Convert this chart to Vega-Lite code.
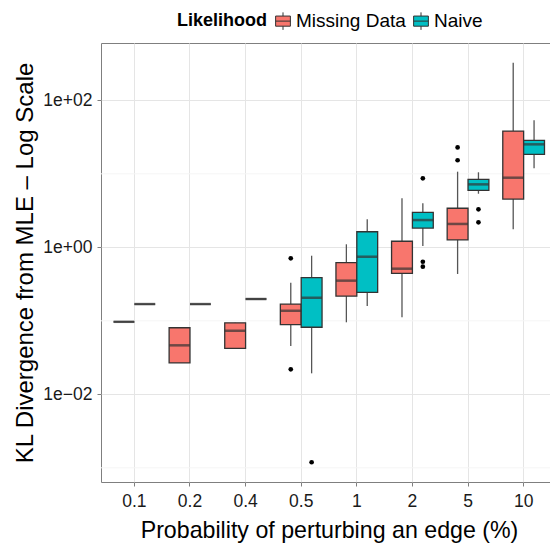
{
  "$schema": "https://vega.github.io/schema/vega-lite/v6.json",
  "width": 449,
  "height": 439,
  "autosize": {"type": "none"},
  "padding": {"left": 101, "top": 43, "right": 0, "bottom": 66},
  "background": "white",
  "config": {
    "font": "Liberation Sans",
    "view": {"stroke": "#7F7F7F", "strokeWidth": 1},
    "axis": {
      "domain": false,
      "tickColor": "#7F7F7F",
      "tickSize": 4,
      "labelFontSize": 17.5,
      "labelColor": "#1A1A1A",
      "titleFontWeight": "normal",
      "titleColor": "#000000",
      "gridColor": "#E5E5E5",
      "gridWidth": 1
    }
  },
  "datasets": {
    "minor": [{"v": 0.001}, {"v": 0.1}, {"v": 10}],
    "boxes": [
      {"cat": "0.1", "group": "Missing Data", "lo": 0.097, "q1": 0.097, "med": 0.097, "q3": 0.097, "hi": 0.097},
      {"cat": "0.1", "group": "Naive", "lo": 0.169, "q1": 0.169, "med": 0.169, "q3": 0.169, "hi": 0.169},
      {"cat": "0.2", "group": "Missing Data", "lo": 0.0267, "q1": 0.0267, "med": 0.0464, "q3": 0.0805, "hi": 0.0805},
      {"cat": "0.2", "group": "Naive", "lo": 0.169, "q1": 0.169, "med": 0.169, "q3": 0.169, "hi": 0.169},
      {"cat": "0.4", "group": "Missing Data", "lo": 0.0423, "q1": 0.0423, "med": 0.0733, "q3": 0.094, "hi": 0.094},
      {"cat": "0.4", "group": "Naive", "lo": 0.198, "q1": 0.198, "med": 0.198, "q3": 0.198, "hi": 0.198},
      {"cat": "0.5", "group": "Missing Data", "lo": 0.0454, "q1": 0.0885, "med": 0.137, "q3": 0.169, "hi": 0.33},
      {"cat": "0.5", "group": "Naive", "lo": 0.0193, "q1": 0.0817, "med": 0.206, "q3": 0.386, "hi": 0.769},
      {"cat": "1", "group": "Missing Data", "lo": 0.0955, "q1": 0.217, "med": 0.352, "q3": 0.618, "hi": 1.10},
      {"cat": "1", "group": "Naive", "lo": 0.159, "q1": 0.244, "med": 0.745, "q3": 1.63, "hi": 2.41},
      {"cat": "2", "group": "Missing Data", "lo": 0.112, "q1": 0.443, "med": 0.512, "q3": 1.21, "hi": 4.64},
      {"cat": "2", "group": "Naive", "lo": 1.04, "q1": 1.83, "med": 2.35, "q3": 2.99, "hi": 3.97},
      {"cat": "5", "group": "Missing Data", "lo": 0.434, "q1": 1.26, "med": 2.08, "q3": 3.40, "hi": 10.7},
      {"cat": "5", "group": "Naive", "lo": 5.36, "q1": 5.96, "med": 7.19, "q3": 8.41, "hi": 10.5},
      {"cat": "10", "group": "Missing Data", "lo": 1.76, "q1": 4.54, "med": 8.86, "q3": 38.2, "hi": 325},
      {"cat": "10", "group": "Naive", "lo": 11.9, "q1": 18.4, "med": 25.2, "q3": 28.6, "hi": 53.4}
    ],
    "outliers": [
      {"cat": "0.5", "group": "Missing Data", "v": 0.708},
      {"cat": "0.5", "group": "Missing Data", "v": 0.0219},
      {"cat": "0.5", "group": "Naive", "v": 0.00119},
      {"cat": "2", "group": "Naive", "v": 8.69},
      {"cat": "2", "group": "Naive", "v": 0.637},
      {"cat": "2", "group": "Naive", "v": 0.545},
      {"cat": "5", "group": "Missing Data", "v": 22.9},
      {"cat": "5", "group": "Missing Data", "v": 15.3},
      {"cat": "5", "group": "Naive", "v": 3.29},
      {"cat": "5", "group": "Naive", "v": 2.19}
    ]
  },
  "layer": [
    {
      "data": {"name": "minor"},
      "mark": {"type": "rule", "color": "#F5F5F5", "strokeWidth": 1},
      "encoding": {
        "y": {
          "field": "v", "type": "quantitative",
          "scale": {"type": "log", "domain": [0.000641, 603], "nice": false},
          "axis": {"title": "KL Divergence from MLE – Log Scale", "values": [0.01, 1, 100], "labelExpr": "datum.value >= 50 ? '1e+02' : datum.value >= 0.5 ? '1e+00' : '1e−02'", "grid": true, "labelPadding": 5, "titleX": -69, "titleBaseline": "alphabetic", "titleFontSize": 24}
        }
      }
    },
    {
      "encoding": {
        "x": {
          "field": "cat", "type": "nominal",
          "sort": ["0.1", "0.2", "0.4", "0.5", "1", "2", "5", "10"],
          "scale": {"range": [0, 456], "paddingInner": 0.25, "paddingOuter": 0.225},
          "axis": {"title": "Probability of perturbing an edge (%)", "bandPosition": 0.5, "grid": true, "labelAngle": 0, "labelPadding": 6, "titleBaseline": "alphabetic", "titleY": 55, "titleFontSize": 23.2}
        },
        "xOffset": {
          "field": "group", "type": "nominal",
          "sort": ["Missing Data", "Naive"],
          "scale": {"paddingInner": 0, "paddingOuter": 0}
        }
      },
      "layer": [
        {
          "data": {"name": "boxes"},
          "mark": {"type": "rule", "color": "#555555", "strokeWidth": 1.3},
          "encoding": {
            "y": {
              "field": "lo", "type": "quantitative",
              "scale": {"type": "log", "domain": [0.000641, 603], "nice": false},
              "axis": {"title": "KL Divergence from MLE – Log Scale", "values": [0.01, 1, 100], "labelExpr": "datum.value >= 50 ? '1e+02' : datum.value >= 0.5 ? '1e+00' : '1e−02'", "grid": true, "labelPadding": 5, "titleX": -69, "titleBaseline": "alphabetic", "titleFontSize": 24}
            },
            "y2": {"field": "hi"}
          }
        },
        {
          "data": {"name": "boxes"},
          "mark": {"type": "bar", "stroke": "#333333", "strokeWidth": 1.3},
          "encoding": {
            "y": {
              "field": "q1", "type": "quantitative",
              "scale": {"type": "log", "domain": [0.000641, 603], "nice": false},
              "axis": {"title": "KL Divergence from MLE – Log Scale", "values": [0.01, 1, 100], "labelExpr": "datum.value >= 50 ? '1e+02' : datum.value >= 0.5 ? '1e+00' : '1e−02'", "grid": true, "labelPadding": 5, "titleX": -69, "titleBaseline": "alphabetic", "titleFontSize": 24}
            },
            "y2": {"field": "q3"},
            "fill": {
              "field": "group", "type": "nominal",
              "scale": {"domain": ["Missing Data", "Naive"], "range": ["#F8766D", "#00BFC4"]},
              "legend": {
                "title": "Likelihood",
                "orient": "none",
                "legendX": 76,
                "legendY": -32,
                "direction": "horizontal",
                "titleOrient": "left",
                "titleFontSize": 18,
                "titleFontWeight": "bold",
                "titleColor": "#000000",
                "titlePadding": 6,
                "labelFontSize": 19,
                "labelColor": "#000000",
                "labelOffset": 3,
                "columnPadding": 5,
                "symbolType": "M-0.8,-0.55H0.8V0.55H-0.8Z M-0.8,0H0.8 M0,-0.55V-0.95 M0,0.55V0.95",
                "symbolSize": 340,
                "symbolStrokeColor": "#333333",
                "symbolStrokeWidth": 1,
                "symbolOpacity": 1
              }
            }
          }
        },
        {
          "data": {"name": "boxes"},
          "mark": {"type": "tick", "color": "#333333", "thickness": 2.5, "size": 20.8, "orient": "horizontal"},
          "encoding": {
            "y": {
              "field": "med", "type": "quantitative",
              "scale": {"type": "log", "domain": [0.000641, 603], "nice": false},
              "axis": {"title": "KL Divergence from MLE – Log Scale", "values": [0.01, 1, 100], "labelExpr": "datum.value >= 50 ? '1e+02' : datum.value >= 0.5 ? '1e+00' : '1e−02'", "grid": true, "labelPadding": 5, "titleX": -69, "titleBaseline": "alphabetic", "titleFontSize": 24}
            }
          }
        },
        {
          "data": {"name": "outliers"},
          "mark": {"type": "point", "filled": true, "color": "#000000", "opacity": 1, "size": 22},
          "encoding": {
            "y": {
              "field": "v", "type": "quantitative",
              "scale": {"type": "log", "domain": [0.000641, 603], "nice": false},
              "axis": {"title": "KL Divergence from MLE – Log Scale", "values": [0.01, 1, 100], "labelExpr": "datum.value >= 50 ? '1e+02' : datum.value >= 0.5 ? '1e+00' : '1e−02'", "grid": true, "labelPadding": 5, "titleX": -69, "titleBaseline": "alphabetic", "titleFontSize": 24}
            }
          }
        }
      ]
    }
  ]
}
